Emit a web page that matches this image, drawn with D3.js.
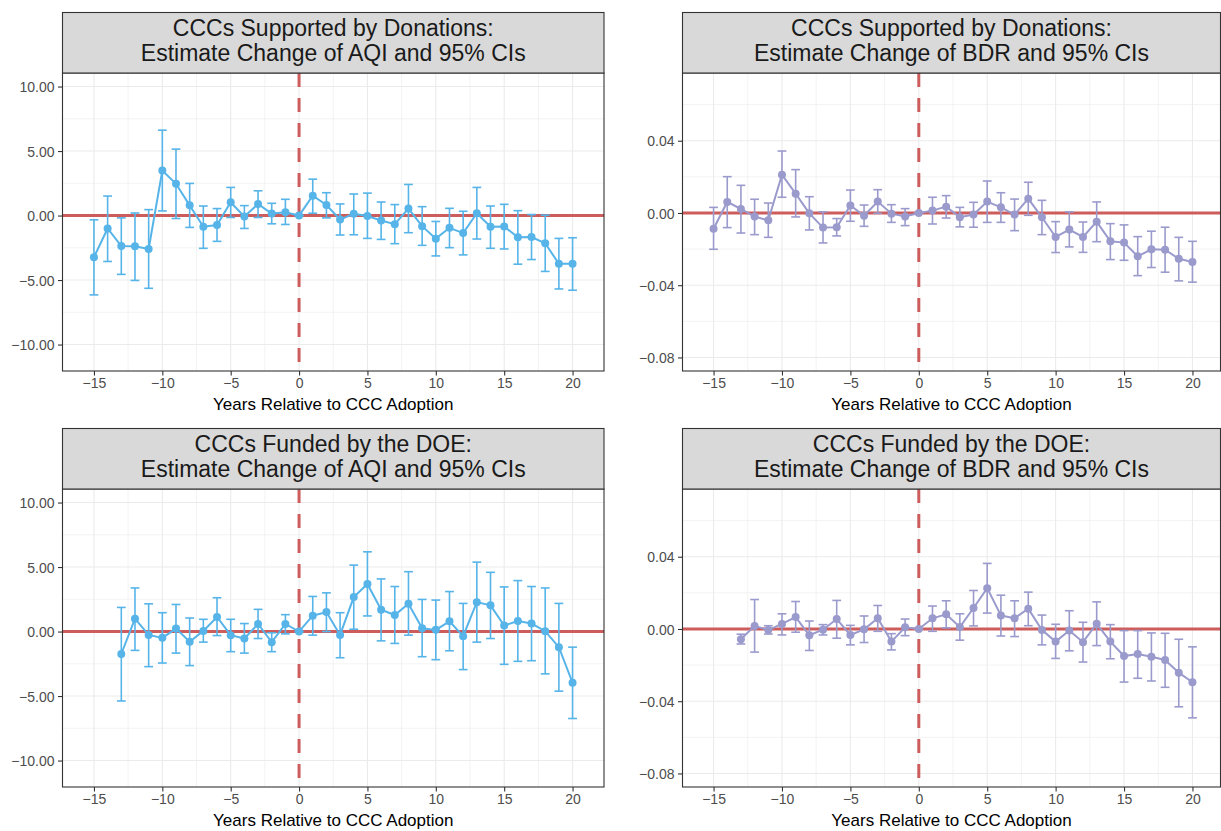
<!DOCTYPE html>
<html>
<head>
<meta charset="utf-8">
<script src="https://cdn.jsdelivr.net/npm/d3@7"></script>
<style>
  body { margin: 0; background: #fff; }
  text { font-family: "Liberation Sans", Arial, sans-serif; }
</style>
</head>
<body>
<script>
// event-study estimates
var yearsDon = [-15, -14, -13, -12, -11, -10, -9, -8, -7, -6, -5, -4, -3, -2, -1, 0, 1, 2, 3, 4,
    5, 6, 7, 8, 9, 10, 11, 12, 13, 14, 15, 16, 17, 18, 19, 20];
var yearsDoe = [-13, -12, -11, -10, -9, -8, -7, -6, -5, -4, -3, -2, -1, 0, 1, 2, 3, 4,
    5, 6, 7, 8, 9, 10, 11, 12, 13, 14, 15, 16, 17, 18, 19, 20];

var aqiDonEst = [-3.23, -1.00, -2.36, -2.38, -2.59, 3.49, 2.46, 0.79, -0.87, -0.74, 1.03, -0.08, 0.90, 0.15, 0.26, 0, 1.54, 0.82,
    -0.31, 0.13, -0.03, -0.38, -0.67, 0.54, -0.82, -1.79, -0.95, -1.36, 0.18, -0.87, -0.85, -1.69, -1.67, -2.15, -3.74, -3.74];
var aqiDonLo = [-6.15, -3.56, -4.56, -5.03, -5.64, 0.36, -0.23, -0.92, -2.54, -2.00, -0.15, -1.00, -0.15, -0.64, -0.69, 0, 0.18, -0.18,
    -1.51, -1.49, -1.77, -1.85, -2.18, -1.33, -2.31, -3.13, -2.49, -3.05, -1.82, -2.54, -2.59, -3.77, -3.41, -4.33, -5.69, -5.79];
var aqiDonHi = [-0.33, 1.51, -0.18, 0.20, 0.46, 6.62, 5.15, 2.49, 0.74, 0.54, 2.18, 0.77, 1.92, 0.95, 1.26, 0, 2.82, 1.77,
    0.90, 1.67, 1.74, 1.05, 0.85, 2.41, 0.69, -0.46, 0.56, 0.33, 2.18, 0.74, 0.87, 0.38, 0.08, 0.03, -1.77, -1.72];

var bdrDonEst = [-0.0087, 0.0061, 0.0022, -0.0020, -0.0041, 0.0212, 0.0107, -0.0002, -0.0081, -0.0079, 0.0042, -0.0015,
    0.0063, -0.0004, -0.0020, 0, 0.0013, 0.0035, -0.0024, -0.0009, 0.0063, 0.0031, -0.0009, 0.0079, -0.0024, -0.0133,
    -0.0092, -0.0133, -0.0048, -0.0157, -0.0164, -0.0240, -0.0201, -0.0203, -0.0254, -0.0271];
var bdrDonLo = [-0.0201, -0.0081, -0.0111, -0.0120, -0.0135, 0.0087, -0.0022, -0.0094, -0.0166, -0.0127, -0.0046, -0.0074,
    -0.0002, -0.0052, -0.0070, 0, -0.0061, -0.0028, -0.0077, -0.0079, -0.0052, -0.0052, -0.0098, -0.0013, -0.0120, -0.0219,
    -0.0188, -0.0218, -0.0159, -0.0258, -0.0262, -0.0347, -0.0302, -0.0328, -0.0376, -0.0383];
var bdrDonHi = [0.0031, 0.0201, 0.0153, 0.0076, 0.0055, 0.0343, 0.0240, 0.0090, 0.0006, -0.0031, 0.0127, 0.0044,
    0.0129, 0.0046, 0.0024, 0, 0.0087, 0.0096, 0.0031, 0.0059, 0.0177, 0.0112, 0.0077, 0.0170, 0.0070, -0.0048,
    0.0006, -0.0050, 0.0061, -0.0059, -0.0066, -0.0131, -0.0101, -0.0079, -0.0135, -0.0157];

var aqiDoeEst = [-1.74, 1.00, -0.26, -0.49, 0.23, -0.79, 0.05, 1.13, -0.28, -0.54, 0.59, -0.82, 0.59, 0, 1.23, 1.51, -0.26,
    2.67, 3.69, 1.69, 1.28, 2.15, 0.26, 0.13, 0.79, -0.36, 2.28, 2.03, 0.46, 0.82, 0.62, 0.03, -1.21, -3.97];
var aqiDoeLo = [-5.38, -1.46, -2.72, -2.44, -1.67, -2.64, -0.82, -0.31, -1.56, -1.67, -0.54, -1.56, -0.18, 0, -0.28, 0.00, -2.03,
    0.18, 1.21, -0.72, -0.92, -0.28, -1.95, -2.18, -1.49, -2.95, -0.82, -0.54, -2.54, -2.31, -2.26, -3.28, -4.62, -6.74];
var aqiDoeHi = [1.87, 3.38, 2.15, 1.46, 2.10, 1.05, 0.95, 2.62, 0.95, 0.62, 1.72, -0.10, 1.31, 0, 2.72, 3.00, 1.46,
    5.15, 6.18, 4.08, 3.49, 4.64, 2.49, 2.44, 3.10, 2.18, 5.38, 4.59, 3.46, 3.95, 3.49, 3.38, 2.18, -1.21];

var bdrDoeEst = [-0.0057, 0.0017, -0.0006, 0.0028, 0.0066, -0.0035, -0.0004, 0.0055, -0.0033, -0.0002, 0.0059, -0.0070,
    0.0009, 0, 0.0059, 0.0081, 0.0011, 0.0116, 0.0226, 0.0075, 0.0059, 0.0112, -0.0006, -0.0070, -0.0009, -0.0073,
    0.0029, -0.0070, -0.0150, -0.0139, -0.0154, -0.0172, -0.0242, -0.0295];
var bdrDoeLo = [-0.0083, -0.0128, -0.0028, -0.0033, -0.0018, -0.0119, -0.0033, -0.0051, -0.0088, -0.0075, -0.0013, -0.0116,
    -0.0037, 0, -0.0013, 0.0006, -0.0062, 0.0017, 0.0088, -0.0039, -0.0042, 0.0018, -0.0088, -0.0163, -0.0121, -0.0183,
    -0.0092, -0.0165, -0.0294, -0.0273, -0.0288, -0.0323, -0.0431, -0.0492];
var bdrDoeHi = [-0.0029, 0.0163, 0.0018, 0.0084, 0.0152, 0.0044, 0.0024, 0.0158, 0.0020, 0.0072, 0.0130, -0.0026,
    0.0055, 0, 0.0127, 0.0156, 0.0084, 0.0213, 0.0363, 0.0187, 0.0156, 0.0204, 0.0077, 0.0026, 0.0101, 0.0037,
    0.0150, 0.0024, -0.0009, -0.0009, -0.0022, -0.0024, -0.0057, -0.0099];

var xTicks = [-15, -10, -5, 0, 5, 10, 15, 20];
var xMinor = [-12.5, -7.5, -2.5, 2.5, 7.5, 12.5, 17.5];
var aqiTicks = [-10, -5, 0, 5, 10];
var aqiMinor = [-7.5, -2.5, 2.5, 7.5];
var bdrTicks = [-0.08, -0.04, 0, 0.04];
var bdrMinor = [-0.06, -0.02, 0.02, 0.06];

var xTitle = "Years Relative to CCC Adoption";

var width = 1221,
    height = 831;

var svg = d3.select("body").append("svg")
    .attr("width", width)
    .attr("height", height);

var blue = "#56b4e9",
    purple = "#9a9acd",
    red = "#cd5c5c";

function drawPanel(p) {
    var g = svg.append("g");
    var x = d3.scaleLinear().domain(p.xDomain).range([p.left, p.right]);
    var y = d3.scaleLinear().domain(p.yDomain).range([p.bottom, p.top]);
    var data = p.years.map(function (yr, i) {
        return { yr: yr, est: p.est[i], lo: p.lo[i], hi: p.hi[i] };
    });

    // grid
    g.selectAll(".xminor").data(xMinor).enter().append("line")
        .attr("x1", d => x(d)).attr("x2", d => x(d))
        .attr("y1", p.top).attr("y2", p.bottom)
        .attr("stroke", "#ebebeb").attr("stroke-width", 0.6);
    g.selectAll(".yminor").data(p.yMinor).enter().append("line")
        .attr("x1", p.left).attr("x2", p.right)
        .attr("y1", d => y(d)).attr("y2", d => y(d))
        .attr("stroke", "#ebebeb").attr("stroke-width", 0.6);
    g.selectAll(".xmajor").data(xTicks).enter().append("line")
        .attr("x1", d => x(d)).attr("x2", d => x(d))
        .attr("y1", p.top).attr("y2", p.bottom)
        .attr("stroke", "#ebebeb").attr("stroke-width", 1.1);
    g.selectAll(".ymajor").data(p.yTicks).enter().append("line")
        .attr("x1", p.left).attr("x2", p.right)
        .attr("y1", d => y(d)).attr("y2", d => y(d))
        .attr("stroke", "#ebebeb").attr("stroke-width", 1.1);

    // reference lines
    g.append("line")
        .attr("x1", p.left).attr("x2", p.right)
        .attr("y1", y(0)).attr("y2", y(0))
        .attr("stroke", red).attr("stroke-width", 3);
    g.append("line")
        .attr("x1", x(0)).attr("x2", x(0))
        .attr("y1", p.top).attr("y2", p.bottom)
        .attr("stroke", red).attr("stroke-width", 3)
        .attr("stroke-dasharray", "14,11");

    // error bars
    var eb = g.selectAll(".eb").data(data).enter().append("g")
        .attr("stroke", p.color).attr("stroke-width", 1.6).attr("fill", "none");
    eb.append("line")
        .attr("x1", d => x(d.yr)).attr("x2", d => x(d.yr))
        .attr("y1", d => y(d.lo)).attr("y2", d => y(d.hi));
    eb.append("line")
        .attr("x1", d => x(d.yr) - 4.4).attr("x2", d => x(d.yr) + 4.4)
        .attr("y1", d => y(d.lo)).attr("y2", d => y(d.lo));
    eb.append("line")
        .attr("x1", d => x(d.yr) - 4.4).attr("x2", d => x(d.yr) + 4.4)
        .attr("y1", d => y(d.hi)).attr("y2", d => y(d.hi));

    g.append("path")
        .datum(data)
        .attr("fill", "none")
        .attr("stroke", p.color)
        .attr("stroke-width", 2)
        .attr("d", d3.line().x(d => x(d.yr)).y(d => y(d.est)));

    g.selectAll(".pt").data(data).enter().append("circle")
        .attr("cx", d => x(d.yr)).attr("cy", d => y(d.est))
        .attr("r", 4).attr("fill", p.color);

    // border
    g.append("rect")
        .attr("x", p.left).attr("y", p.top)
        .attr("width", p.right - p.left).attr("height", p.bottom - p.top)
        .attr("fill", "none").attr("stroke", "#333").attr("stroke-width", 1.1);

    // axes
    var xAxis = g.append("g")
        .attr("transform", "translate(0," + p.bottom + ")")
        .call(d3.axisBottom(x).tickValues(xTicks).tickSize(4.5).tickPadding(3).tickFormat(d3.format("d")));
    var yAxis = g.append("g")
        .attr("transform", "translate(" + p.left + ",0)")
        .call(d3.axisLeft(y).tickValues(p.yTicks).tickSize(4.5).tickPadding(3.5).tickFormat(d3.format(".2f")));
    [xAxis, yAxis].forEach(function (a) {
        a.select(".domain").remove();
        a.selectAll(".tick line").attr("stroke", "#333").attr("stroke-width", 1.1);
        a.selectAll(".tick text").attr("fill", "#4d4d4d").style("font-size", "14px");
    });
    yAxis.selectAll(".tick text").attr("dy", "0.36em");

    g.append("text")
        .attr("x", (p.left + p.right) / 2)
        .attr("y", p.bottom + 38.5)
        .attr("text-anchor", "middle")
        .style("font-size", "17px")
        .attr("fill", "#000")
        .text(xTitle);

    // strip
    g.append("rect")
        .attr("x", p.left).attr("y", p.top - 60.5)
        .attr("width", p.right - p.left).attr("height", 60.5)
        .attr("fill", "#d9d9d9").attr("stroke", "#333").attr("stroke-width", 1.1);
    g.selectAll(".st").data(p.title).enter().append("text")
        .attr("x", (p.left + p.right) / 2)
        .attr("y", (d, i) => p.top - 37 + i * 25)
        .attr("text-anchor", "middle")
        .style("font-size", "23px")
        .attr("fill", "#1a1a1a")
        .text(d => d);
}

var leftX = [62.5, 604], rightX = [682.5, 1220.5];
var rowTop = [73, 489], rowBottom = [371, 787];

drawPanel({
    left: leftX[0], right: leftX[1], top: rowTop[0], bottom: rowBottom[0],
    xDomain: [-17.3, 22.3], yDomain: [-12.05, 11.05],
    years: yearsDon, est: aqiDonEst, lo: aqiDonLo, hi: aqiDonHi,
    yTicks: aqiTicks, yMinor: aqiMinor, color: blue,
    title: ["CCCs Supported by Donations:", "Estimate Change of AQI and 95% CIs"]
});
drawPanel({
    left: rightX[0], right: rightX[1], top: rowTop[0], bottom: rowBottom[0],
    xDomain: [-17.27, 22.05], yDomain: [-0.0875, 0.0775],
    years: yearsDon, est: bdrDonEst, lo: bdrDonLo, hi: bdrDonHi,
    yTicks: bdrTicks, yMinor: bdrMinor, color: purple,
    title: ["CCCs Supported by Donations:", "Estimate Change of BDR and 95% CIs"]
});
drawPanel({
    left: leftX[0], right: leftX[1], top: rowTop[1], bottom: rowBottom[1],
    xDomain: [-17.3, 22.3], yDomain: [-12.05, 11.05],
    years: yearsDoe, est: aqiDoeEst, lo: aqiDoeLo, hi: aqiDoeHi,
    yTicks: aqiTicks, yMinor: aqiMinor, color: blue,
    title: ["CCCs Funded by the DOE:", "Estimate Change of AQI and 95% CIs"]
});
drawPanel({
    left: rightX[0], right: rightX[1], top: rowTop[1], bottom: rowBottom[1],
    xDomain: [-17.27, 22.05], yDomain: [-0.0875, 0.0775],
    years: yearsDoe, est: bdrDoeEst, lo: bdrDoeLo, hi: bdrDoeHi,
    yTicks: bdrTicks, yMinor: bdrMinor, color: purple,
    title: ["CCCs Funded by the DOE:", "Estimate Change of BDR and 95% CIs"]
});
</script>
</body>
</html>
